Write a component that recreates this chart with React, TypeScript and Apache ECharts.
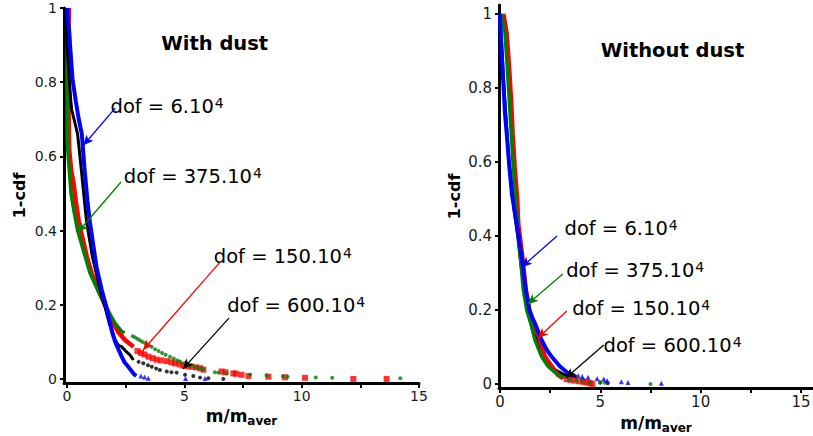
import React, { useEffect, useRef } from 'react';
import * as echarts from 'echarts';

const panelTitles = ['With dust', 'Without dust'];
const dofLabels = ['6', '375', '150', '600'];
const xAxisName = ['m/m', 'aver'];
const yAxisName = '1-cdf';
const xTickValues = [0, 2.5, 5, 7.5, 10, 12.5, 15];
const xLabelValues = [0, 5, 10, 15];
const yTickValues = [0, 0.2, 0.4, 0.6, 0.8, 1];

// ---- With dust (left panel) ----
const wd6Curve = [[0, 1], [0.03, 0.97], [0.09, 0.94], [0.15, 0.88], [0.23, 0.81], [0.37, 0.75], [0.5, 0.7], [0.63, 0.66], [0.74, 0.57], [0.87, 0.48], [0.98, 0.42], [1.19, 0.33], [1.26, 0.3], [1.48, 0.24], [1.65, 0.2], [1.83, 0.15], [1.95, 0.12], [2.05, 0.1], [2.33, 0.06], [2.45, 0.045], [2.61, 0.033], [2.85, 0.013], [2.95, 0.008]];
const wd6Tail = [[3.15, 0.008], [3.3, 0.005], [3.46, 0.002], [5.05, 0.001], [5.88, 0.001]];
const wd375Curve = [[0.05, 1], [0, 0.9], [0, 0.8], [0, 0.7], [0, 0.645], [0.085, 0.57], [0.17, 0.5], [0.3, 0.45], [0.45, 0.4], [0.77, 0.33], [0.98, 0.285], [1.31, 0.24], [1.62, 0.197], [2.05, 0.15], [2.3, 0.13], [2.45, 0.124]];
const wd375Tail = [[2.8, 0.115], [2.9, 0.112], [3.0, 0.108], [3.1, 0.104], [3.2, 0.1], [3.32, 0.097], [3.45, 0.092], [3.6, 0.087], [3.75, 0.08], [3.9, 0.075], [4.05, 0.07], [4.2, 0.065], [4.39, 0.06], [4.55, 0.055], [4.7, 0.05], [4.81, 0.047], [5.0, 0.042], [5.15, 0.04], [5.31, 0.037], [5.5, 0.032], [5.65, 0.029], [5.81, 0.026], [6.3, 0.018], [6.45, 0.017], [6.8, 0.015], [7.8, 0.011], [8.5, 0.01], [9.2, 0.007], [9.4, 0.006], [10.6, 0.004], [11.3, 0.003], [14.2, 0.002]];
const wd150Curve = [[0.08, 1], [0.05, 0.9], [0.05, 0.8], [0.07, 0.7], [0.09, 0.62], [0.18, 0.56], [0.27, 0.53], [0.37, 0.48], [0.51, 0.42], [0.84, 0.33], [1.05, 0.285], [1.33, 0.24], [1.62, 0.2], [1.97, 0.15], [2.2, 0.125], [2.47, 0.105], [2.83, 0.087]];
const wd150Tail = [[3.0, 0.075], [3.15, 0.07], [3.3, 0.066], [3.47, 0.06], [3.65, 0.056], [3.82, 0.052], [4.0, 0.05], [4.25, 0.048], [4.45, 0.045], [4.6, 0.042], [4.8, 0.039], [4.96, 0.036], [5.15, 0.034], [5.31, 0.033], [5.5, 0.031], [5.67, 0.029], [5.81, 0.025], [6.59, 0.02], [6.75, 0.018], [7.09, 0.015], [7.2, 0.014], [7.44, 0.011], [7.73, 0.008], [8.58, 0.006], [9.29, 0.0045], [10.14, 0.003], [12.2, 0.0], [13.62, 0.0]];
const wd600Curve = [[0, 1], [0, 0.9], [0.06, 0.84], [0.16, 0.75], [0.2, 0.725], [0.3, 0.7], [0.45, 0.66], [0.6, 0.57], [0.74, 0.48], [0.84, 0.42], [1.08, 0.33], [1.41, 0.24], [1.59, 0.2], [1.8, 0.15], [2.05, 0.105], [2.2, 0.09], [2.33, 0.087], [2.5, 0.075], [2.68, 0.065], [2.83, 0.051]];
const wd600Tail = [[3.05, 0.046], [3.25, 0.042], [3.45, 0.037], [3.61, 0.033], [3.8, 0.028], [3.96, 0.024], [4.25, 0.02], [4.45, 0.018], [4.67, 0.017], [5.03, 0.011], [5.38, 0.008], [5.67, 0.0035], [6.02, 0.002], [6.66, 0.0]];

// ---- Without dust (right panel) ----
const nd6Curve = [[0, 1], [0.03, 0.95], [0.1, 0.88], [0.13, 0.85], [0.25, 0.73], [0.33, 0.68], [0.46, 0.59], [0.6, 0.51], [0.83, 0.434], [1.08, 0.344], [1.28, 0.254], [1.46, 0.2], [1.6, 0.18], [1.74, 0.164], [2.07, 0.119], [2.3, 0.095], [2.57, 0.074], [2.99, 0.047], [3.4, 0.029], [3.7, 0.023]];
const nd6Tail = [[3.9, 0.022], [4.1, 0.02], [4.39, 0.018], [4.84, 0.015], [5.17, 0.013], [5.34, 0.009], [6.05, 0.006], [6.38, 0.004], [8.04, 0.002]];
const nd375Curve = [[0.08, 1], [0.25, 0.948], [0.36, 0.857], [0.46, 0.768], [0.56, 0.677], [0.66, 0.587], [0.78, 0.497], [0.9, 0.42], [1.0, 0.35], [1.16, 0.254], [1.33, 0.2], [1.53, 0.164], [1.74, 0.119], [2.07, 0.074], [2.4, 0.047], [2.9, 0.024], [3.2, 0.017]];
const nd375Tail = [[3.48, 0.011], [3.8, 0.009], [4.1, 0.007], [4.48, 0.004], [4.98, 0.004], [5.22, 0.003], [7.5, 0.0]];
const nd150Curve = [[0.17, 1], [0.33, 0.948], [0.45, 0.857], [0.55, 0.768], [0.63, 0.677], [0.73, 0.587], [0.86, 0.497], [0.91, 0.434], [1.11, 0.344], [1.29, 0.254], [1.46, 0.2], [1.66, 0.164], [1.96, 0.125], [2.24, 0.074], [2.57, 0.047], [2.9, 0.024], [3.15, 0.015]];
const nd150Tail = [[3.32, 0.013], [3.5, 0.011], [3.73, 0.009], [3.95, 0.007], [4.15, 0.006], [4.3, 0.004], [4.48, 0.002], [4.6, 0.0]];
const nd600Curve = [[0, 1], [0.1, 0.9], [0.2, 0.8], [0.3, 0.72], [0.42, 0.62], [0.55, 0.55], [0.7, 0.47], [0.88, 0.4], [1.05, 0.32], [1.25, 0.25], [1.4, 0.2], [1.58, 0.164], [1.86, 0.119], [2.24, 0.074], [2.74, 0.038], [3.2, 0.025], [3.82, 0.02]];
const nd600Tail = [[4.15, 0.011], [4.48, 0.006], [5.0, 0.004], [5.37, 0.002]];

const FONT = 'DejaVu Sans';
const COLORS: Record<string, string> = { '6': '#0000ff', '375': '#008000', '150': '#ff0000', '600': '#000000' };
const SYMBOLS: Record<string, [string, number]> = { '6': ['triangle', 5], '375': ['circle', 4], '150': ['rect', 6], '600': ['circle', 4] };
const WIDTHS: Record<string, number> = { '6': 4, '375': 3.5, '150': 4.5, '600': 3 };

export default function App() {
  const ref = useRef<HTMLDivElement>(null);
  useEffect(() => {
    if (!ref.current) return;
    const chart = echarts.init(ref.current, undefined, { renderer: 'svg' });

    const panels = [
      {
        grid: { left: 64, top: 8, width: 355, height: 375 },
        xRange: [-0.13, 15], yRange: [-0.011, 1], labelSize: 14,
        order: ['150', '375', '600', '6'],
        data: {
          '6': [wd6Curve, wd6Tail], '375': [wd375Curve, wd375Tail],
          '150': [wd150Curve, wd150Tail], '600': [wd600Curve, wd600Tail],
        } as Record<string, number[][][]>,
        arrows: {
          '6': [[2.05, 0.73], [0.7, 0.63]],
          '375': [[2.3, 0.531], [0.47, 0.396]],
          '150': [[6.52, 0.315], [3.24, 0.078]],
          '600': [[6.9, 0.164], [4.94, 0.027]],
        } as Record<string, number[][]>,
        texts: { '6': [110.5, 106.4], '375': [123.8, 176.4], '150': [213.8, 256.4], '600': [227.2, 305.4] } as Record<string, number[]>,
        title: [214.7, 43.4],
        xNameGap: 22, yNameGap: 37,
      },
      {
        grid: { left: 499, top: 5, width: 314, height: 383 },
        xRange: [-0.05, 15.6], yRange: [-0.011, 1.024], labelSize: 15,
        order: ['600', '150', '375', '6'],
        data: {
          '6': [nd6Curve, nd6Tail], '375': [nd375Curve, nd375Tail],
          '150': [nd150Curve, nd150Tail], '600': [nd600Curve, nd600Tail],
        } as Record<string, number[][][]>,
        arrows: {
          '6': [[2.84, 0.4], [1.09, 0.316]],
          '375': [[3.13, 0.297], [1.39, 0.216]],
          '150': [[3.33, 0.197], [1.89, 0.124]],
          '600': [[5.17, 0.105], [3.28, 0.016]],
        } as Record<string, number[][]>,
        texts: { '6': [564.5, 228.4], '375': [566.2, 270.4], '150': [572.2, 308.4], '600': [603.5, 345.4] } as Record<string, number[]>,
        title: [672.5, 50.7],
        xNameGap: 24, yNameGap: 37,
      },
    ];

    const grids: any[] = [];
    const xAxes: any[] = [];
    const yAxes: any[] = [];
    const series: any[] = [];
    const graphics: any[] = [];

    panels.forEach((p, i) => {
      grids.push({ ...p.grid, containLabel: false, outerBoundsMode: 'none' });
      xAxes.push({
        type: 'value', gridIndex: i, min: p.xRange[0], max: p.xRange[1],
        splitLine: { show: false },
        axisLine: { onZero: false, lineStyle: { color: '#000', width: 3 } },
        axisTick: { show: true, customValues: xTickValues, length: 5, lineStyle: { color: '#000', width: 2 } },
        axisLabel: { customValues: xLabelValues, color: '#1a1a1a', fontSize: p.labelSize, fontFamily: FONT, margin: 6 },
        name: `${xAxisName[0]}{sub|${xAxisName[1]}}`,
        nameLocation: 'middle', nameGap: p.xNameGap,
        nameTextStyle: {
          fontFamily: FONT, fontWeight: 'bold', fontSize: 17, color: '#000',
          rich: { sub: { fontFamily: FONT, fontWeight: 'bold', fontSize: 12, color: '#000', padding: [10, 0, 0, 0] } },
        },
      });
      yAxes.push({
        type: 'value', gridIndex: i, min: p.yRange[0], max: p.yRange[1],
        splitLine: { show: false },
        axisLine: { onZero: false, lineStyle: { color: '#000', width: 3 } },
        axisTick: { show: true, customValues: yTickValues, length: 4, lineStyle: { color: '#000', width: 2 } },
        axisLabel: { customValues: yTickValues, color: '#1a1a1a', fontSize: p.labelSize, fontFamily: FONT, margin: 7 },
        name: yAxisName, nameLocation: 'middle', nameGap: p.yNameGap, nameRotate: 90,
        nameTextStyle: { fontFamily: FONT, fontWeight: 'bold', fontSize: 16, color: '#000' },
      });

      p.order.forEach((k) => {
        const [curve, tail] = p.data[k];
        const color = COLORS[k];
        const arrow = p.arrows[k];
        series.push({
          type: 'line', xAxisIndex: i, yAxisIndex: i, data: curve,
          showSymbol: false, symbol: 'none', silent: true,
          lineStyle: { color, width: WIDTHS[k] }, itemStyle: { color },
        });
        series.push({
          type: 'scatter', xAxisIndex: i, yAxisIndex: i, data: tail, silent: true,
          symbol: SYMBOLS[k][0], symbolSize: SYMBOLS[k][1], itemStyle: { color },
          markLine: {
            silent: true, symbol: ['none', 'arrow'], symbolSize: [7, 10],
            label: { show: false },
            lineStyle: { color, width: 1.3, type: 'solid' },
            itemStyle: { color },
            data: [[{ coord: arrow[0] }, { coord: arrow[1] }]],
          },
        });
      });

      dofLabels.forEach((k) => {
        const [tx, ty] = p.texts[k];
        graphics.push({
          type: 'text', x: tx, y: ty, silent: true,
          style: {
            text: `dof = ${k}.10{sup|4}`,
            fontFamily: FONT, fontSize: 19.5, fill: '#000',
            align: 'left', verticalAlign: 'middle', textAlign: 'left', textVerticalAlign: 'middle',
            rich: { sup: { fontFamily: FONT, fontSize: 14, fill: '#000', padding: [0, 0, 7, 1] } },
          },
        });
      });

      graphics.push({
        type: 'text', x: p.title[0], y: p.title[1], silent: true,
        style: {
          text: panelTitles[i], fontFamily: FONT, fontWeight: 'bold', fontSize: 19.5, fill: '#000',
          align: 'center', verticalAlign: 'middle', textAlign: 'center', textVerticalAlign: 'middle',
        },
      });
    });

    chart.setOption({
      animation: false,
      backgroundColor: '#fff',
      textStyle: { fontFamily: FONT },
      grid: grids, xAxis: xAxes, yAxis: yAxes, series, graphic: graphics,
    });
    return () => chart.dispose();
  }, []);
  return <div ref={ref} style={{ position: 'fixed', left: 0, top: 0, width: 813, height: 436 }} />;
}
